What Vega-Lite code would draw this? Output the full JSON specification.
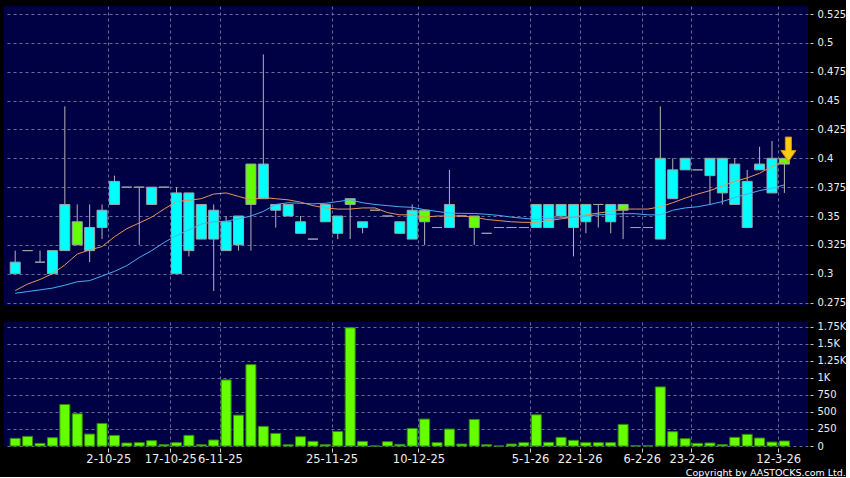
{
  "$schema": "https://vega.github.io/schema/vega-lite/v6.json",
  "background": "#000000",
  "padding": {"left": 4, "top": 6, "right": 0, "bottom": 0},
  "title": {"text": "Copyright by AASTOCKS.com Ltd.", "orient": "bottom", "anchor": "end", "color": "#ffffff", "fontSize": 9.5, "fontWeight": "normal", "font": "DejaVu Sans", "offset": 3},
  "datasets": {
    "bars": [
      {"i":0,"o":0.30,"h":0.32,"l":0.30,"c":0.31,"v":112,"m1":0.2854,"m2":0.283},
      {"i":1,"o":0.32,"h":0.32,"l":0.32,"c":0.32,"v":141,"m1":0.291,"m2":0.2845},
      {"i":2,"o":0.31,"h":0.32,"l":0.31,"c":0.31,"v":39,"m1":0.295,"m2":0.286},
      {"i":3,"o":0.30,"h":0.32,"l":0.30,"c":0.32,"v":122,"m1":0.300,"m2":0.2875},
      {"i":4,"o":0.32,"h":0.445,"l":0.32,"c":0.36,"v":609,"m1":0.3076,"m2":0.290},
      {"i":5,"o":0.345,"h":0.36,"l":0.325,"c":0.325,"v":473,"m1":0.317,"m2":0.293},
      {"i":6,"o":0.32,"h":0.36,"l":0.31,"c":0.34,"v":175,"m1":0.3206,"m2":0.294},
      {"i":7,"o":0.34,"h":0.36,"l":0.33,"c":0.355,"v":331,"m1":0.3235,"m2":0.298},
      {"i":8,"o":0.36,"h":0.385,"l":0.36,"c":0.38,"v":156,"m1":0.332,"m2":0.302},
      {"i":9,"o":0.375,"h":0.375,"l":0.375,"c":0.375,"v":44,"m1":0.339,"m2":0.307},
      {"i":10,"o":0.375,"h":0.375,"l":0.325,"c":0.375,"v":49,"m1":0.344,"m2":0.314},
      {"i":11,"o":0.36,"h":0.375,"l":0.36,"c":0.375,"v":78,"m1":0.349,"m2":0.320},
      {"i":12,"o":0.375,"h":0.375,"l":0.375,"c":0.375,"v":19,"m1":0.356,"m2":0.327},
      {"i":13,"o":0.30,"h":0.375,"l":0.30,"c":0.37,"v":49,"m1":0.3625,"m2":0.333},
      {"i":14,"o":0.32,"h":0.37,"l":0.315,"c":0.37,"v":156,"m1":0.3636,"m2":0.338},
      {"i":15,"o":0.33,"h":0.36,"l":0.33,"c":0.36,"v":19,"m1":0.365,"m2":0.343},
      {"i":16,"o":0.33,"h":0.36,"l":0.285,"c":0.355,"v":88,"m1":0.369,"m2":0.345},
      {"i":17,"o":0.32,"h":0.35,"l":0.32,"c":0.345,"v":970,"m1":0.370,"m2":0.3455},
      {"i":18,"o":0.325,"h":0.35,"l":0.32,"c":0.35,"v":453,"m1":0.367,"m2":0.3475},
      {"i":19,"o":0.395,"h":0.395,"l":0.32,"c":0.36,"v":1194,"m1":0.364,"m2":0.350},
      {"i":20,"o":0.365,"h":0.49,"l":0.365,"c":0.395,"v":288,"m1":0.366,"m2":0.354},
      {"i":21,"o":0.355,"h":0.36,"l":0.34,"c":0.36,"v":185,"m1":0.365,"m2":0.360},
      {"i":22,"o":0.35,"h":0.36,"l":0.35,"c":0.36,"v":19,"m1":0.364,"m2":0.3615},
      {"i":23,"o":0.335,"h":0.35,"l":0.335,"c":0.345,"v":136,"m1":0.362,"m2":0.361},
      {"i":24,"o":0.33,"h":0.33,"l":0.33,"c":0.33,"v":68,"m1":0.359,"m2":0.3605},
      {"i":25,"o":0.345,"h":0.36,"l":0.345,"c":0.36,"v":19,"m1":0.357,"m2":0.361},
      {"i":26,"o":0.335,"h":0.35,"l":0.33,"c":0.35,"v":214,"m1":0.356,"m2":0.3625},
      {"i":27,"o":0.365,"h":0.365,"l":0.33,"c":0.36,"v":1735,"m1":0.356,"m2":0.364},
      {"i":28,"o":0.34,"h":0.345,"l":0.335,"c":0.345,"v":68,"m1":0.357,"m2":0.3615},
      {"i":29,"o":0.355,"h":0.355,"l":0.355,"c":0.355,"v":0,"m1":0.357,"m2":0.360},
      {"i":30,"o":0.35,"h":0.35,"l":0.35,"c":0.35,"v":63,"m1":0.353,"m2":0.359},
      {"i":31,"o":0.335,"h":0.345,"l":0.335,"c":0.345,"v":24,"m1":0.351,"m2":0.358},
      {"i":32,"o":0.33,"h":0.36,"l":0.33,"c":0.355,"v":258,"m1":0.351,"m2":0.3575},
      {"i":33,"o":0.355,"h":0.355,"l":0.325,"c":0.345,"v":395,"m1":0.349,"m2":0.3555},
      {"i":34,"o":0.34,"h":0.34,"l":0.34,"c":0.34,"v":49,"m1":0.350,"m2":0.354},
      {"i":35,"o":0.34,"h":0.39,"l":0.34,"c":0.36,"v":249,"m1":0.350,"m2":0.3525},
      {"i":36,"o":0.35,"h":0.35,"l":0.35,"c":0.35,"v":29,"m1":0.350,"m2":0.3523},
      {"i":37,"o":0.35,"h":0.35,"l":0.325,"c":0.34,"v":390,"m1":0.349,"m2":0.3522},
      {"i":38,"o":0.335,"h":0.335,"l":0.335,"c":0.335,"v":19,"m1":0.347,"m2":0.3515},
      {"i":39,"o":0.34,"h":0.34,"l":0.34,"c":0.34,"v":0,"m1":0.346,"m2":0.3505},
      {"i":40,"o":0.34,"h":0.34,"l":0.34,"c":0.34,"v":29,"m1":0.345,"m2":0.349},
      {"i":41,"o":0.34,"h":0.34,"l":0.34,"c":0.34,"v":49,"m1":0.3445,"m2":0.348},
      {"i":42,"o":0.34,"h":0.36,"l":0.34,"c":0.36,"v":458,"m1":0.3445,"m2":0.347},
      {"i":43,"o":0.34,"h":0.36,"l":0.34,"c":0.36,"v":54,"m1":0.346,"m2":0.348},
      {"i":44,"o":0.35,"h":0.36,"l":0.35,"c":0.36,"v":127,"m1":0.3475,"m2":0.3485},
      {"i":45,"o":0.34,"h":0.36,"l":0.315,"c":0.36,"v":83,"m1":0.349,"m2":0.349},
      {"i":46,"o":0.345,"h":0.36,"l":0.335,"c":0.36,"v":49,"m1":0.351,"m2":0.350},
      {"i":47,"o":0.36,"h":0.36,"l":0.34,"c":0.36,"v":49,"m1":0.3525,"m2":0.351},
      {"i":48,"o":0.345,"h":0.36,"l":0.335,"c":0.36,"v":49,"m1":0.354,"m2":0.3515},
      {"i":49,"o":0.36,"h":0.36,"l":0.33,"c":0.355,"v":317,"m1":0.356,"m2":0.352},
      {"i":50,"o":0.34,"h":0.34,"l":0.34,"c":0.34,"v":3,"m1":0.356,"m2":0.352},
      {"i":51,"o":0.34,"h":0.34,"l":0.34,"c":0.34,"v":3,"m1":0.356,"m2":0.351},
      {"i":52,"o":0.33,"h":0.445,"l":0.33,"c":0.40,"v":867,"m1":0.358,"m2":0.351},
      {"i":53,"o":0.365,"h":0.40,"l":0.365,"c":0.39,"v":210,"m1":0.3615,"m2":0.355},
      {"i":54,"o":0.39,"h":0.40,"l":0.39,"c":0.40,"v":107,"m1":0.3655,"m2":0.357},
      {"i":55,"o":0.39,"h":0.39,"l":0.39,"c":0.39,"v":39,"m1":0.369,"m2":0.358},
      {"i":56,"o":0.385,"h":0.40,"l":0.36,"c":0.40,"v":44,"m1":0.372,"m2":0.360},
      {"i":57,"o":0.37,"h":0.40,"l":0.36,"c":0.40,"v":19,"m1":0.376,"m2":0.3625},
      {"i":58,"o":0.36,"h":0.40,"l":0.36,"c":0.395,"v":127,"m1":0.380,"m2":0.366},
      {"i":59,"o":0.34,"h":0.39,"l":0.34,"c":0.38,"v":171,"m1":0.383,"m2":0.369},
      {"i":60,"o":0.39,"h":0.41,"l":0.39,"c":0.395,"v":117,"m1":0.387,"m2":0.372},
      {"i":61,"o":0.37,"h":0.415,"l":0.37,"c":0.40,"v":58,"m1":0.393,"m2":0.374},
      {"i":62,"o":0.40,"h":0.40,"l":0.37,"c":0.395,"v":73,"m1":0.397,"m2":0.377}
    ]
  },
  "spacing": 13,
  "config": {
    "view": {"stroke": null, "fill": "#000044"},
    "axis": {
      "gridColor": "#6a6a9a", "gridDash": [3, 3], "gridWidth": 1, "gridOpacity": 1,
      "labelColor": "#eeeeee", "labelFont": "DejaVu Sans", "tickColor": "#cccccc",
      "domain": false, "title": null, "labelOverlap": false
    }
  },
  "vconcat": [
    {
      "width": 804,
      "height": 300,
      "data": {"name": "bars"},
      "encoding": {
        "x": {"field": "i", "type": "quantitative",
          "scale": {"domain": [-0.5, 63.5], "nice": false, "zero": false},
          "axis": {"grid": true, "labels": false, "ticks": false, "domain": false, "tickCount": 20,
            "values": [7.5, 12.5, 16.5, 25.5, 32.5, 41.5, 45.5, 50.5, 54.5, 61.5]}}
      },
      "layer": [
        {
          "mark": {"type": "rule", "color": "#b4b4b4", "strokeWidth": 1},
          "encoding": {
            "y": {"field": "l", "type": "quantitative",
              "scale": {"domain": [0.272, 0.532], "nice": false, "zero": false},
              "axis": {"orient": "right", "values": [0.275, 0.3, 0.325, 0.35, 0.375, 0.4, 0.425, 0.45, 0.475, 0.5, 0.525],
                "tickCount": 12, "format": ".3~f", "grid": true, "labelFontSize": 10, "tickSize": 3, "offset": 2, "labelPadding": 4, "labelOverlap": false}},
            "y2": {"field": "h"}
          }
        },
        {
          "mark": {"type": "bar", "size": 10, "orient": "vertical", "stroke": "#9aa6aa", "strokeWidth": 1},
          "encoding": {
            "y": {"field": "o", "type": "quantitative"},
            "y2": {"field": "c"},
            "color": {"condition": {"test": "datum.c < datum.o", "value": "#66ff00"}, "value": "#00ffff"}
          }
        },
        {
          "mark": {"type": "line", "color": "#e8945a", "strokeWidth": 1},
          "encoding": {"y": {"field": "m1", "type": "quantitative"}}
        },
        {
          "mark": {"type": "line", "color": "#4aaef5", "strokeWidth": 1},
          "encoding": {"y": {"field": "m2", "type": "quantitative"}}
        },
        {
          "transform": [{"filter": "datum.i == 62"}],
          "mark": {"type": "point", "filled": true, "size": 600, "opacity": 1,
            "shape": "M-0.25,-1L0.25,-1L0.25,0.1L0.62,0.1L0,1L-0.62,0.1L-0.25,0.1Z",
            "fill": "#ffcc11", "stroke": "#d98a00", "strokeWidth": 1, "xOffset": 4, "yOffset": -9},
          "encoding": {"y": {"field": "h", "type": "quantitative"}}
        }
      ]
    },
    {
      "width": 804,
      "height": 124,
      "data": {"name": "bars"},
      "mark": {"type": "bar", "size": 10, "orient": "vertical", "fill": "#66ff00", "stroke": "#2f8a00", "strokeWidth": 1},
      "encoding": {
        "x": {"field": "i", "type": "quantitative",
          "scale": {"domain": [-0.5, 63.5], "nice": false, "zero": false},
          "axis": {"grid": true, "domain": false, "ticks": true, "tickSize": 4, "offset": 2, "tickCount": 20,
            "labelFontSize": 11.5, "labelPadding": 1, "labelOverlap": false, "labelBound": false, "labelFlush": false,
            "values": [7.5, 12.5, 16.5, 25.5, 32.5, 41.5, 45.5, 50.5, 54.5, 61.5],
            "labelExpr": "['2-10-25','17-10-25','6-11-25','25-11-25','10-12-25','5-1-26','22-1-26','6-2-26','23-2-26','12-3-26'][indexof([7.5,12.5,16.5,25.5,32.5,41.5,45.5,50.5,54.5,61.5], datum.value)]"}},
        "y": {"field": "v", "type": "quantitative",
          "scale": {"domain": [0, 1820], "nice": false},
          "axis": {"orient": "right", "values": [0, 250, 500, 750, 1000, 1250, 1500, 1750], "grid": true, "tickCount": 10,
            "labelFontSize": 10, "tickSize": 3, "offset": 2, "labelPadding": 4,
            "labelExpr": "datum.value >= 1000 ? (datum.value / 1000) + 'K' : datum.value + ''"}}
      }
    }
  ]
}
